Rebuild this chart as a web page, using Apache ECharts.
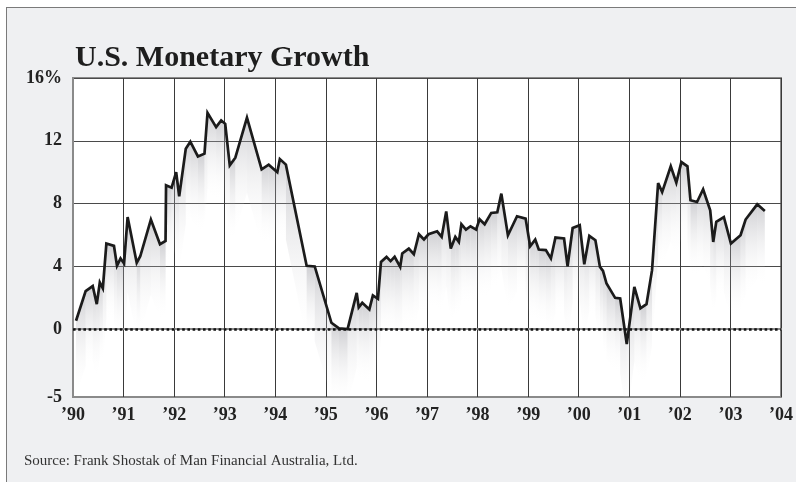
<!DOCTYPE html>
<html>
<head>
<meta charset="utf-8">
<script src="https://cdn.jsdelivr.net/npm/echarts@6/dist/echarts.min.js"></script>
<style>
  html, body { margin: 0; padding: 0; background: #fff; }
  .frame {
    position: absolute; left: 6px; top: 7px; width: 800px; height: 490px;
    background: #eff0f2; border-left: 1px solid #7a7a7a; border-top: 1px solid #7a7a7a;
  }
  #chart { position: absolute; left: 0; top: 0; width: 796px; height: 482px; }
</style>
</head>
<body>
<div class="frame"></div>
<div id="chart"></div>
<script>
// decimal year of each turning point of the line
var years = [
  1990.06, 1990.25, 1990.39, 1990.47, 1990.53, 1990.59, 1990.66, 1990.81, 1990.87, 1990.94,
  1991.01, 1991.08, 1991.26, 1991.33, 1991.54, 1991.72, 1991.83, 1991.84, 1991.95,
  1992.04, 1992.10, 1992.23, 1992.32, 1992.47, 1992.60, 1992.66, 1992.83, 1992.93,
  1993.01, 1993.10, 1993.21, 1993.44, 1993.73, 1993.87,
  1994.04, 1994.09, 1994.21, 1994.62, 1994.78,
  1995.11, 1995.26, 1995.43, 1995.61, 1995.65, 1995.72, 1995.86, 1995.93,
  1996.03, 1996.09, 1996.20, 1996.28, 1996.36, 1996.47, 1996.51, 1996.64, 1996.74, 1996.84, 1996.94,
  1997.03, 1997.20, 1997.29, 1997.38, 1997.47, 1997.56, 1997.63, 1997.68, 1997.77, 1997.86, 1997.97,
  1998.04, 1998.14, 1998.27, 1998.39, 1998.47, 1998.60, 1998.78, 1998.95,
  1999.04, 1999.14, 1999.21, 1999.35, 1999.45, 1999.54, 1999.71, 1999.78, 1999.88,
  2000.02, 2000.11, 2000.21, 2000.33, 2000.42, 2000.48, 2000.55, 2000.72, 2000.82, 2000.95,
  2001.10, 2001.22, 2001.34, 2001.45, 2001.57, 2001.65, 2001.82, 2001.93,
  2002.03, 2002.15, 2002.21, 2002.34, 2002.46, 2002.60, 2002.66, 2002.72, 2002.87,
  2003.01, 2003.20, 2003.30, 2003.53, 2003.68
];
// monetary growth, %
var growth = [
  0.53, 2.42, 2.74, 1.59, 2.97, 2.59, 5.45, 5.3, 4.03, 4.5,
  4.18, 7.14, 4.22, 4.64, 6.98, 5.41, 5.62, 9.16, 9.01,
  10.0, 8.46, 11.49, 11.94, 11.0, 11.18, 13.78, 12.87, 13.3,
  13.08, 10.43, 10.92, 13.47, 10.18, 10.48,
  10.0, 10.83, 10.48, 4.03, 3.99,
  0.40, 0.04, 0.0, 2.31, 1.38, 1.67, 1.25, 2.14,
  1.93, 4.28, 4.6, 4.33, 4.6, 3.96, 4.82, 5.13, 4.77, 6.04, 5.71,
  6.04, 6.23, 5.87, 7.5, 5.13, 5.87, 5.55, 6.68, 6.34, 6.55, 6.34,
  7.0, 6.68, 7.4, 7.44, 8.63, 5.98, 7.19, 7.04,
  5.28, 5.7, 5.07, 5.03, 4.5, 5.83, 5.77, 4.0, 6.44,
  6.62, 4.13, 5.94, 5.66, 3.96, 3.71, 2.9, 1.99, 1.95, -0.95,
  2.69, 1.32, 1.59, 3.75, 9.31, 8.73, 10.37, 9.33,
  10.64, 10.37, 8.21, 8.1, 8.91, 7.57, 5.55, 6.83, 7.14,
  5.45, 5.98, 6.98, 7.95, 7.53
];
// y axis: the bottom of the frame is labelled -5 in the original
var yMin = -4.33;
var yLabelValues = [yMin, 0, 4, 8, 12, 16];
var yGridValues = [4, 8, 12, 16];
var xStart = 1990, xEnd = 2004;

var points = years.map(function (y, i) { return [y, growth[i]]; });
var serif = '"Liberation Serif", "DejaVu Serif", serif';

var chart = echarts.init(document.getElementById('chart'));
chart.setOption({
  animation: false,
  title: {
    text: 'U.S. Monetary Growth',
    left: 70, top: 38,
    textStyle: { fontFamily: serif, fontWeight: 'bold', fontSize: 30, color: '#1e1e1e' }
  },
  graphic: [{
    type: 'text', left: 24, top: 454,
    style: { text: 'Source: Frank Shostak of Man Financial Australia, Ltd.', font: '15px ' + serif, fill: '#333' }
  }],
  grid: {
    left: 73, right: 13, top: 78, bottom: 85,
    show: true, backgroundColor: '#fff', borderColor: '#8a8a8a', borderWidth: 2
  },
  xAxis: {
    type: 'value', min: xStart, max: xEnd, interval: 1,
    axisLine: { show: true, lineStyle: { color: '#8a8a8a', width: 2 } },
    axisTick: { show: false },
    axisLabel: {
      margin: 9, color: '#222', fontFamily: serif, fontWeight: 'bold', fontSize: 18,
      formatter: function (v) { return '\u2019' + String(v).slice(2); }
    },
    splitLine: { show: true, lineStyle: { color: '#3a3a3a', width: 1 } }
  },
  yAxis: {
    type: 'value', min: yMin, max: 16,
    axisLine: { show: true, lineStyle: { color: '#8a8a8a', width: 2 } },
    axisTick: { show: false, customValues: yGridValues },
    axisLabel: {
      customValues: yLabelValues, margin: 11,
      color: '#222', fontFamily: serif, fontWeight: 'bold', fontSize: 18,
      formatter: function (v) {
        if (v === 16) return '16%';
        if (v < -4) return '-5';
        return String(v);
      }
    },
    splitLine: { show: true, lineStyle: { color: '#4a4a4a', width: 1 } }
  },
  series: [
    {
      // grey shadow under each segment of the line
      type: 'custom',
      clip: true,
      silent: true,
      data: points,
      renderItem: function (params, api) {
        var i = params.dataIndex;
        if (i >= years.length - 1) return;
        var p0 = api.coord([years[i], growth[i]]);
        var p1 = api.coord([years[i + 1], growth[i + 1]]);
        var d = 75;
        return {
          type: 'polygon',
          shape: { points: [p0, p1, [p1[0], p1[1] + d], [p0[0], p0[1] + d]] },
          style: {
            fill: new echarts.graphic.LinearGradient(0, 0, 0, 1, [
              { offset: 0, color: 'rgba(140,140,148,0.42)' },
              { offset: 1, color: 'rgba(255,255,255,0)' }
            ]),
            stroke: null
          }
        };
      }
    },
    {
      type: 'line',
      data: points,
      showSymbol: false,
      silent: true,
      lineStyle: { color: '#1b1b1b', width: 2.7, join: 'miter', miterLimit: 4 },
      markLine: {
        silent: true,
        symbol: 'none',
        label: { show: false },
        lineStyle: { color: '#111', width: 2.6, type: [2.6, 2.6] },
        data: [{ yAxis: 0 }]
      }
    }
  ]
});
</script>
</body>
</html>
